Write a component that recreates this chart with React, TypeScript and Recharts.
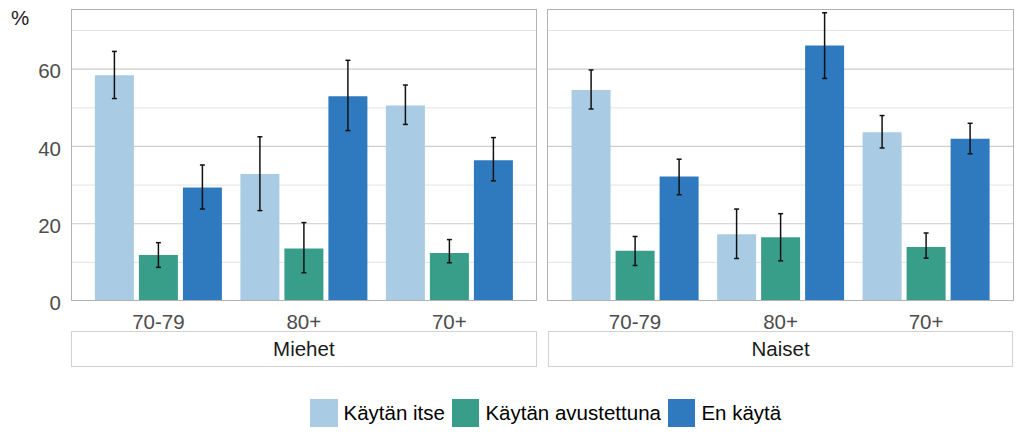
import React from 'react';
import { BarChart, Bar, XAxis, YAxis, CartesianGrid, ErrorBar } from 'recharts';

const categories = ['70-79', '80+', '70+'];
const seriesNames = ['Käytän itse', 'Käytän avustettuna', 'En käytä'];
const seriesColors = ['#a9cce4', '#389e8a', '#2f7abe'];
const yTicks = [0, 20, 40, 60];
const majorGrid = [20, 40, 60];
const minorGrid = [10, 30, 50, 70];

// Miehet
const miehetItse = [58.4, 32.9, 50.6];
const miehetItseLow = [52.4, 23.4, 45.7];
const miehetItseHigh = [64.6, 42.5, 55.9];
const miehetAvust = [11.9, 13.6, 12.4];
const miehetAvustLow = [8.7, 7.3, 9.9];
const miehetAvustHigh = [15.1, 20.3, 15.9];
const miehetEn = [29.4, 53.0, 36.4];
const miehetEnLow = [23.8, 44.1, 31.1];
const miehetEnHigh = [35.2, 62.3, 42.3];

// Naiset
const naisetItse = [54.6, 17.3, 43.7];
const naisetItseLow = [49.7, 11.0, 39.6];
const naisetItseHigh = [59.8, 23.8, 48.0];
const naisetAvust = [13.0, 16.5, 14.0];
const naisetAvustLow = [9.2, 10.4, 11.1];
const naisetAvustHigh = [16.7, 22.6, 17.6];
const naisetEn = [32.2, 66.1, 42.0];
const naisetEnLow = [27.5, 57.6, 38.1];
const naisetEnHigh = [36.7, 74.6, 46.0];

const panelNames = ['Miehet', 'Naiset'];

function buildRows(vals: number[][], lows: number[][], highs: number[][]) {
  return categories.map((cat, i) => {
    const row: any = { cat };
    vals.forEach((v, s) => {
      row['s' + s] = v[i];
      row['e' + s] = [v[i] - lows[s][i], highs[s][i] - v[i]];
    });
    return row;
  });
}

const miehetRows = buildRows(
  [miehetItse, miehetAvust, miehetEn],
  [miehetItseLow, miehetAvustLow, miehetEnLow],
  [miehetItseHigh, miehetAvustHigh, miehetEnHigh]
);
const naisetRows = buildRows(
  [naisetItse, naisetAvust, naisetEn],
  [naisetItseLow, naisetAvustLow, naisetEnLow],
  [naisetItseHigh, naisetAvustHigh, naisetEnHigh]
);

const FONT = '"Liberation Sans", Arial, sans-serif';
const FS = 20.5;
const DOMAIN: [number, number] = [0, 75.5];
const PLOT_TOP = 9.3;
const PLOT_BOTTOM = 301;
const CHART_H = 345;
const PANEL_W = 465.7;
const LEFT_X = 71;
const RIGHT_X = 547.7;

function Panel({ rows, showY, width, marginLeft, marginRight }: any) {
  return (
    <BarChart
      width={width}
      height={CHART_H}
      data={rows}
      margin={{ top: PLOT_TOP, right: marginRight, left: marginLeft, bottom: 0 }}
      barGap={5}
      barCategoryGap={9.3}
    >
      <CartesianGrid horizontal vertical={false} horizontalValues={minorGrid} stroke="#e3e3e3" strokeWidth={1} />
      <CartesianGrid horizontal vertical={false} horizontalValues={majorGrid} stroke="#cdcdcd" strokeWidth={1.2} />
      <XAxis
        dataKey="cat"
        height={CHART_H - PLOT_BOTTOM}
        axisLine={false}
        tickLine={false}
        tickSize={0}
        tickMargin={13}
        padding={{ left: 14.6, right: 14.6 }}
        tick={{ fill: '#4d4d4d', fontSize: FS, fontFamily: FONT }}
        interval={0}
      />
      <YAxis
        hide={!showY}
        width={LEFT_X}
        domain={DOMAIN}
        ticks={yTicks}
        allowDataOverflow
        axisLine={false}
        tickLine={false}
        tickSize={0}
        tickMargin={10}
        tick={{ fill: '#4d4d4d', fontSize: FS, fontFamily: FONT, dy: 2 }}
      />
      {seriesNames.map((name, s) => (
        <Bar key={name} dataKey={'s' + s} name={name} fill={seriesColors[s]} isAnimationActive={false}>
          <ErrorBar dataKey={'e' + s} width={2.5} strokeWidth={1.5} stroke="#111" direction="y" />
        </Bar>
      ))}
    </BarChart>
  );
}

export default function App() {
  const stripStyle = (left: number): React.CSSProperties => ({
    position: 'absolute',
    left,
    top: 331,
    width: PANEL_W,
    height: 36,
    boxSizing: 'border-box',
    border: '1px solid #d2d2d2',
    background: '#fff',
    textAlign: 'center',
    lineHeight: '34px',
    fontSize: FS,
    color: '#1a1a1a',
  });
  const borderStyle = (left: number): React.CSSProperties => ({
    position: 'absolute',
    left: left - 0.5,
    top: PLOT_TOP - 0.5,
    width: PANEL_W + 1,
    height: PLOT_BOTTOM - PLOT_TOP + 1,
    boxSizing: 'border-box',
    border: '1px solid #b3b3b3',
    pointerEvents: 'none',
  });
  return (
    <div
      style={{
        position: 'absolute',
        left: 0,
        top: 0,
        width: 1024,
        height: 448,
        background: '#fff',
        fontFamily: FONT,
        overflow: 'hidden',
      }}
    >
      <div style={{ position: 'absolute', left: 11, top: 7.6, fontSize: FS, lineHeight: 1, color: '#1a1a1a' }}>%</div>
      <div style={{ position: 'absolute', left: 0, top: 0 }}>
        <Panel rows={miehetRows} showY width={540} marginLeft={0} marginRight={540 - LEFT_X - PANEL_W} />
      </div>
      <div style={{ position: 'absolute', left: 540, top: 0 }}>
        <Panel rows={naisetRows} showY={false} width={478} marginLeft={RIGHT_X - 540} marginRight={478 - (RIGHT_X - 540) - PANEL_W} />
      </div>
      <div style={borderStyle(LEFT_X)} />
      <div style={borderStyle(RIGHT_X)} />
      <div style={stripStyle(LEFT_X)}>{panelNames[0]}</div>
      <div style={stripStyle(RIGHT_X)}>{panelNames[1]}</div>
      <div
        style={{
          position: 'absolute',
          left: 310,
          top: 399,
          display: 'flex',
          alignItems: 'center',
          fontSize: FS,
          color: '#000',
          whiteSpace: 'nowrap',
        }}
      >
        {seriesNames.map((name, s) => (
          <div key={name} style={{ display: 'flex', alignItems: 'center', marginRight: 7 }}>
            <div style={{ width: 27.5, height: 27.5, background: seriesColors[s] }} />
            <span style={{ marginLeft: 6, lineHeight: '27px' }}>{name}</span>
          </div>
        ))}
      </div>
    </div>
  );
}
